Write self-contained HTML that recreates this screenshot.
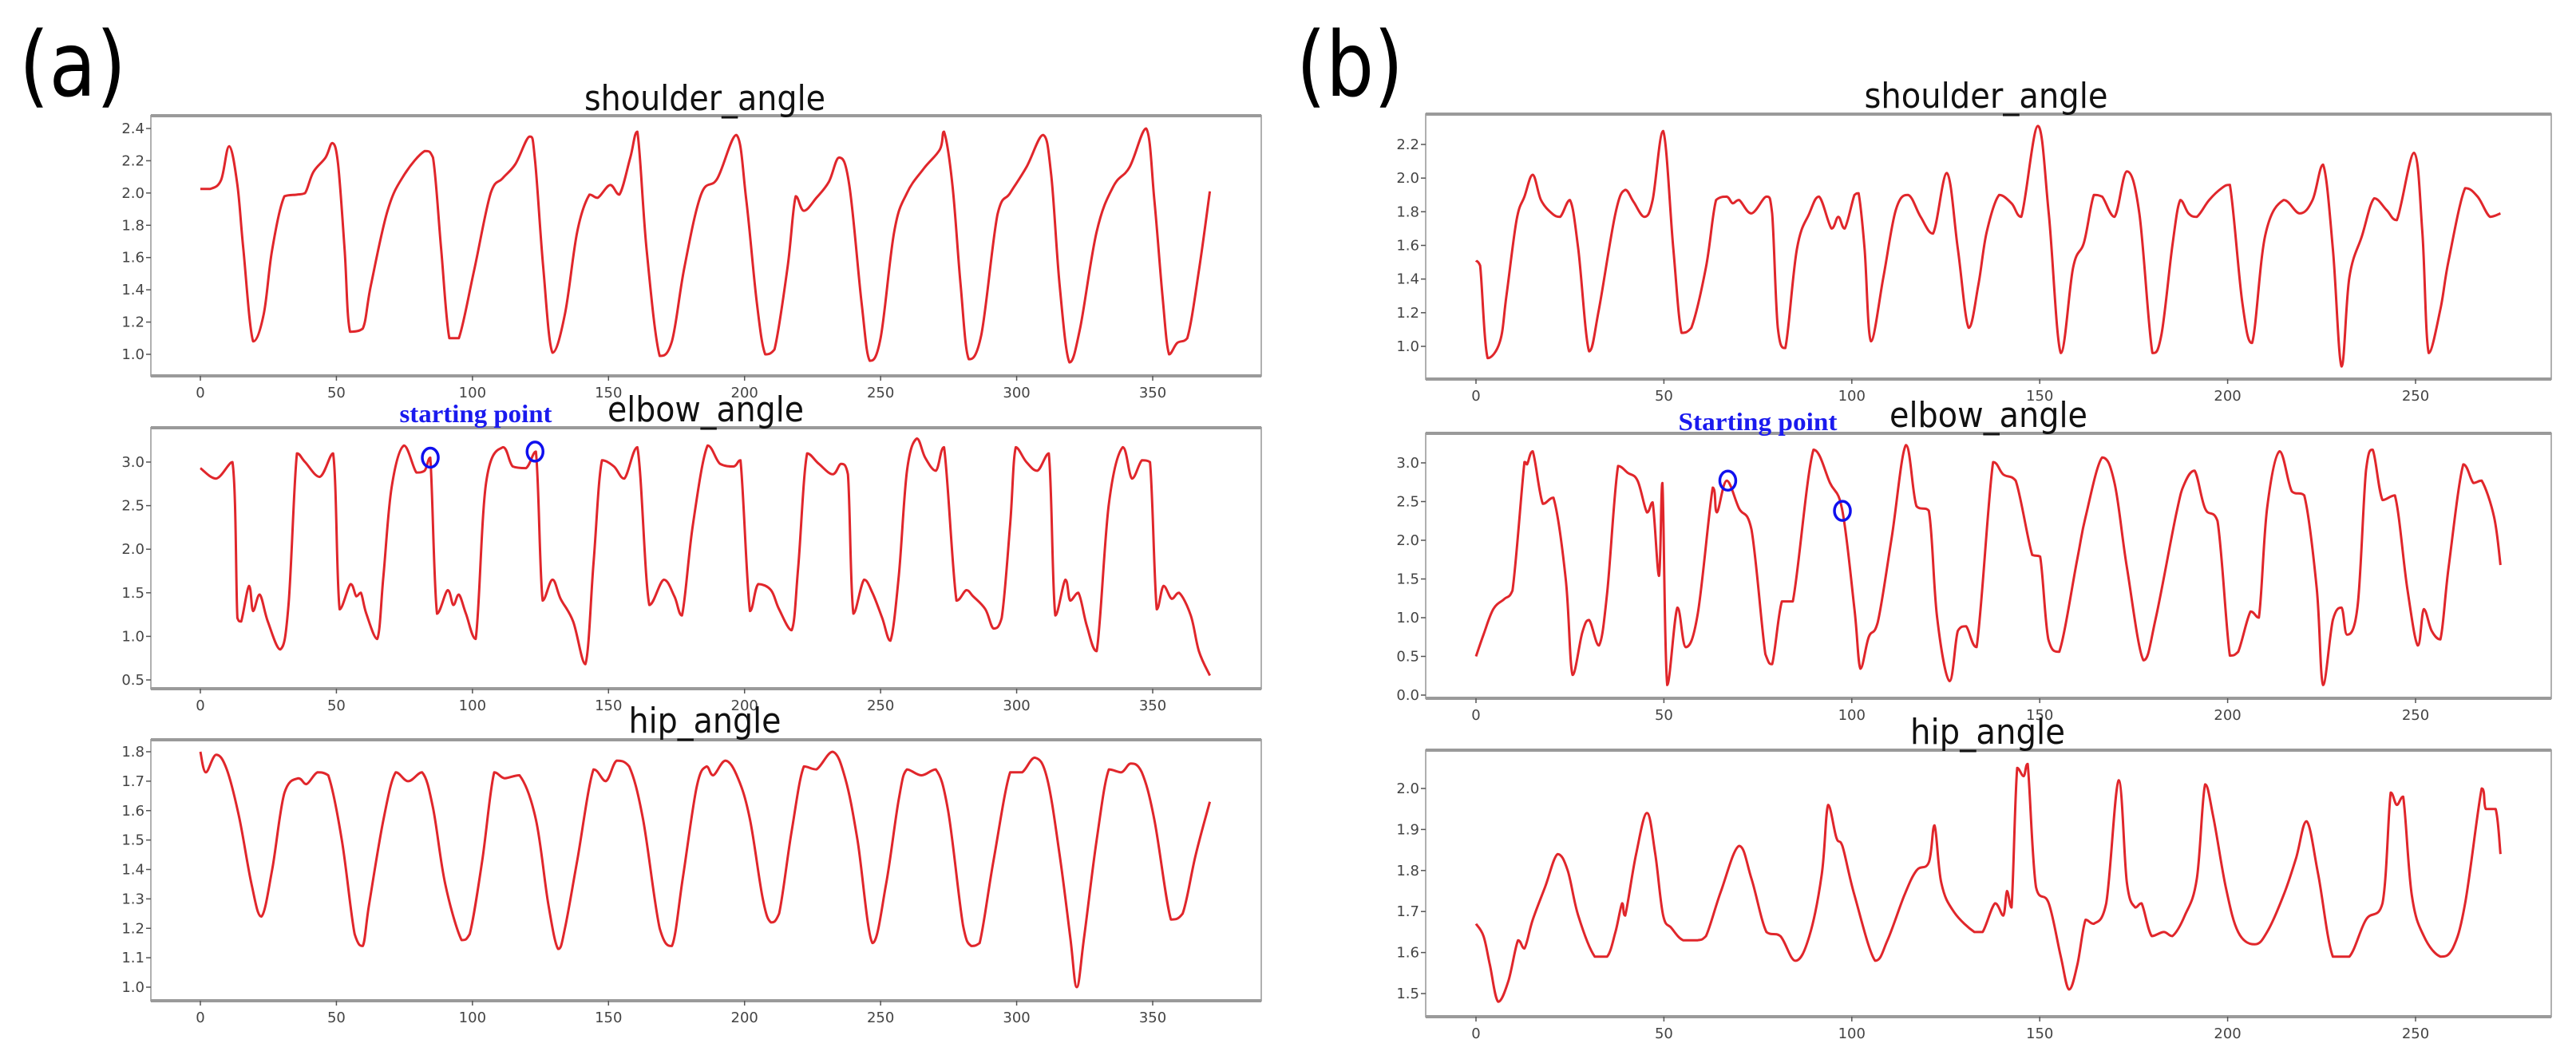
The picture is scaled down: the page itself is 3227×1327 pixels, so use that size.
<!DOCTYPE html>
<html><head><meta charset="utf-8"><style>
html,body{margin:0;padding:0;background:#fff;}
svg{display:block;}
</style></head><body>
<svg id="fig" width="3227" height="1327" viewBox="0 0 3227 1327" xmlns="http://www.w3.org/2000/svg">
<text x="24" y="120" font-family="DejaVu Sans, sans-serif" font-size="112" fill="#000" textLength="134" lengthAdjust="spacingAndGlyphs">(a)</text>
<text x="1624" y="120" font-family="DejaVu Sans, sans-serif" font-size="112" fill="#000" textLength="134" lengthAdjust="spacingAndGlyphs">(b)</text>
<g id="plots"></g>
</svg>
<script>
// ---- data: (a) ----
const aShoulderX=[0,3.6,7.6,10.6,13.6,15.8,19.4,23.3,26.4,30.9,35.5,38.5,41.5,46,48.5,50.6,53,55,59.7,62.7,68.8,74.8,82.4,85.5,88.5,91.5,95,100.6,106.7,111,115.8,121,123,126,129.4,134,138.5,143,146,150.6,154,158,160.6,164,168.8,173.3,177.9,184,190,197,200.6,204.5,207.6,211,215.8,218.8,221.8,226.4,231,234.8,238.5,243,246,250,255,259.7,265.8,271.8,273.3,276.4,279.4,282.4,287,293,297.6,303.6,309.7,312.7,315.8,319.4,323.3,329.4,335.5,341.5,347.6,350.6,353.6,356,359,362.7,367,371];
const aShoulderY=[2.025,2.025,2.08,2.29,2.05,1.65,1.08,1.25,1.65,1.98,1.99,2.0,2.13,2.22,2.31,2.18,1.65,1.14,1.16,1.43,1.89,2.11,2.26,2.22,1.65,1.10,1.10,1.52,2.0,2.09,2.18,2.35,2.2,1.54,1.01,1.25,1.76,1.99,1.97,2.05,1.99,2.22,2.38,1.65,0.99,1.08,1.54,1.99,2.09,2.36,1.96,1.32,1.0,1.03,1.54,1.98,1.89,1.97,2.07,2.22,2.05,1.32,0.96,1.10,1.76,2.0,2.15,2.27,2.38,2.05,1.43,0.97,1.12,1.87,2.0,2.16,2.36,2.11,1.43,0.95,1.16,1.76,2.04,2.16,2.4,1.96,1.36,1.0,1.07,1.1,1.52,2.01];
const aElbowX=[0,5.8,11.8,13.6,15,17.9,19.4,21.8,24.8,29.4,32.4,35.5,38.5,43.9,48.8,51.2,55.2,57.3,59,61,65,67.3,70.3,74.8,79.4,82.4,84.5,87,90.9,93,95,97.6,101.2,105,111.2,114.8,119.7,123.3,125.8,129.4,132.4,137,141.5,144.5,147.6,152,155.8,160.6,165,170.3,174.2,177,181,186.4,191,196,198.5,202,205,209.7,212.7,217.3,219.7,223,227.3,232.4,235.5,238,240,243.9,247,250.6,253.6,256.7,259.7,263.3,266.4,270.3,273.3,277.9,281.5,284,288.5,291.5,294.5,297.6,299.7,303.6,307.6,311.8,314.2,317.9,319.7,322.7,325.8,329.4,333.9,339,342.4,346,349,351.5,354,357,359.7,364,367,371];
const aElbowY=[2.93,2.81,3.0,1.21,1.17,1.58,1.29,1.48,1.17,0.85,1.36,3.1,3.0,2.83,3.1,1.31,1.6,1.46,1.5,1.26,0.97,1.7,2.71,3.19,2.88,2.9,3.05,1.26,1.53,1.36,1.48,1.26,0.97,2.76,3.17,2.95,2.93,3.12,1.41,1.65,1.43,1.17,0.68,1.84,3.02,2.95,2.81,3.17,1.36,1.65,1.46,1.24,2.28,3.19,2.98,2.95,3.02,1.29,1.6,1.53,1.31,1.07,1.79,3.1,2.98,2.86,2.98,2.86,1.26,1.65,1.5,1.21,0.95,1.7,2.9,3.27,3.05,2.9,3.17,1.41,1.53,1.46,1.31,1.09,1.21,2.28,3.17,3.0,2.9,3.1,1.24,1.65,1.41,1.5,1.12,0.83,2.52,3.17,2.81,3.02,3.0,1.31,1.58,1.43,1.5,1.24,0.83,0.55];
const aHipX=[0,2,5.8,9.7,14.2,18.8,22.4,26.4,30.9,36,39,43,47,52,56.7,59.7,62,67.3,71.8,76.4,81.5,85.5,90,96,99,103.6,108,111.8,117.3,123.3,127.9,131.5,134,138.5,144.5,149,153,157.6,162.7,168.8,173.3,177.3,182.4,186,188.5,193,197.6,202,206.7,209.7,212.7,217.3,221.8,226.4,232.4,237,241.5,247,252,256.7,259.7,265,270.3,274.8,280.3,283.3,286.4,291.5,297.6,302,306.7,311.2,315.8,319.7,322.1,324.8,329.4,333.9,338.5,342,346,350.6,356.7,361,365.8,371];
const aHipY=[1.8,1.73,1.79,1.74,1.58,1.35,1.24,1.4,1.66,1.71,1.69,1.73,1.72,1.5,1.18,1.14,1.28,1.57,1.73,1.7,1.73,1.61,1.35,1.16,1.18,1.43,1.73,1.71,1.72,1.57,1.28,1.13,1.2,1.43,1.74,1.7,1.77,1.75,1.57,1.2,1.14,1.37,1.68,1.75,1.72,1.77,1.71,1.57,1.3,1.22,1.25,1.53,1.75,1.74,1.8,1.71,1.5,1.15,1.35,1.64,1.74,1.72,1.74,1.6,1.21,1.14,1.15,1.43,1.73,1.73,1.78,1.71,1.45,1.17,1.0,1.17,1.5,1.74,1.73,1.76,1.73,1.57,1.23,1.25,1.45,1.63];
// ---- data: (b) ----
const bShoulderX=[0,1.1,3.1,6.4,8.1,10.8,12.9,15.1,17.3,20.2,22.4,25,27.2,30.1,32.7,37.1,39.7,41.9,44.8,47,49.8,52.5,54.7,57.3,61.2,63.9,66.7,68.3,70,73.3,77.3,78.8,80.3,82.3,85.4,88.7,91.3,94.6,96.4,98.1,100.7,101.8,103.4,105.1,108.4,111.7,115,118.3,121.6,125.3,128.2,131.1,133.7,135.9,139.2,142.5,145.1,149.5,152.4,155.6,158.9,161.8,164.4,166.6,169.9,173.2,176.5,180,182.4,185.3,187.4,189.6,191.8,195.1,198.4,200.6,203.9,206.5,210,214.9,219.2,222.6,225.4,228,230.3,232.4,235.8,239,242.3,245,249.6,251.8,253.5,256.6,258.8,263.2,266.5,269.8,272.6];
const bShoulderY=[1.51,1.48,0.93,1.03,1.30,1.75,1.89,2.02,1.87,1.79,1.77,1.87,1.58,0.97,1.22,1.79,1.93,1.86,1.77,1.87,2.28,1.58,1.08,1.11,1.47,1.87,1.89,1.85,1.87,1.79,1.89,1.79,1.11,0.99,1.58,1.79,1.89,1.70,1.77,1.70,1.90,1.91,1.58,1.03,1.41,1.81,1.90,1.77,1.67,2.03,1.58,1.11,1.37,1.68,1.90,1.85,1.77,2.31,1.79,0.96,1.47,1.62,1.90,1.89,1.77,2.04,1.79,0.96,1.07,1.60,1.87,1.79,1.77,1.87,1.94,1.96,1.26,1.02,1.66,1.87,1.79,1.87,2.08,1.58,0.88,1.41,1.66,1.88,1.81,1.75,2.15,1.68,0.96,1.22,1.51,1.94,1.89,1.77,1.79];
const bElbowX=[0,2,4.6,7.5,9.7,12.9,13.6,15.1,17.8,20.6,23.9,25.7,28.3,30.1,32.7,34.9,37.8,40.4,43,45.5,47,48.7,49.6,50.9,53.6,55.8,59,63,64.1,66.7,70,73.3,77,78.8,81.4,84.3,89.8,94.2,97.5,100.7,102.3,104.5,106.9,110.6,114.4,117.2,120.5,122.7,126,128.2,130.4,133.2,137.6,140.3,143.6,148,150.1,152.3,155.2,160,162.2,166.6,169.9,173.2,177.6,180.9,186.4,188.6,191.2,194,197.3,200.6,202.8,206.1,208.3,210.5,213.8,217.1,220.4,223.7,225.4,228,230.3,231.8,234.6,236.8,238.6,241.2,244.5,247.8,250.6,252.2,254.3,256.6,258.8,262.7,265.4,267.6,270.9,272.6];
const bElbowY=[0.50,0.78,1.11,1.24,1.35,3.01,2.98,3.15,2.47,2.55,1.49,0.26,0.81,0.97,0.64,1.32,2.96,2.87,2.77,2.36,2.49,1.54,2.74,0.13,1.13,0.62,1.05,2.68,2.36,2.77,2.41,2.14,0.53,0.40,1.21,1.21,3.17,2.74,2.38,1.11,0.34,0.75,0.94,2.03,3.23,2.44,2.38,1.0,0.18,0.83,0.89,0.62,3.01,2.85,2.77,1.81,1.79,0.72,0.56,1.76,2.30,3.07,2.74,1.65,0.45,1.0,2.36,2.74,2.90,2.41,2.25,0.51,0.56,1.08,1.0,2.41,3.15,2.63,2.58,1.38,0.13,0.97,1.13,0.78,1.16,2.90,3.17,2.52,2.58,1.38,0.64,1.11,0.83,0.72,1.65,2.98,2.74,2.77,2.30,1.68];
const bHipX=[0,2,3.7,5.9,8.6,11.2,12.9,15.1,18.4,21.7,24.4,27.2,31.6,34.9,37.1,38.9,39.7,42.6,45.5,47.7,49.8,52,55.1,59,61.2,65.2,70,73.3,77.3,81,85,88.7,92,93.7,95.9,97.5,100.7,106.2,109.5,114,117.2,120.5,122,123.8,127.1,132.6,134.8,138.1,140.3,141.3,142.5,144,145.7,146.8,149,152.4,155.6,157.8,160,162.2,164.4,167.7,171,173.2,175.4,177.1,179.8,183,185.3,188.6,191.8,194,196.2,199.5,202.8,207.2,210.5,214.9,218.2,221,224.1,228,232.4,236.8,241.2,243.4,245,246.7,249,252.2,256.6,259.9,263.2,267.6,268.7,271.3,272.6];
const bHipY=[1.67,1.64,1.57,1.48,1.53,1.63,1.61,1.68,1.76,1.84,1.80,1.69,1.59,1.59,1.65,1.72,1.69,1.84,1.94,1.84,1.69,1.66,1.63,1.63,1.64,1.75,1.86,1.78,1.65,1.64,1.58,1.64,1.79,1.96,1.88,1.86,1.74,1.58,1.63,1.74,1.80,1.82,1.91,1.77,1.70,1.65,1.65,1.72,1.69,1.75,1.71,2.05,2.03,2.06,1.76,1.72,1.59,1.51,1.57,1.68,1.67,1.72,2.02,1.77,1.71,1.72,1.64,1.65,1.64,1.69,1.78,2.01,1.93,1.76,1.65,1.62,1.65,1.74,1.83,1.92,1.79,1.59,1.59,1.68,1.72,1.99,1.96,1.98,1.74,1.64,1.59,1.61,1.72,2.00,1.95,1.95,1.84];
// tick labels
const aXTicks=[0,50,100,150,200,250,300,350];
const bXTicks=[0,50,100,150,200,250];
const aShoulderTicks=[1.0,1.2,1.4,1.6,1.8,2.0,2.2,2.4];
const aElbowTicks=[0.5,1.0,1.5,2.0,2.5,3.0];
const aHipTicks=[1.0,1.1,1.2,1.3,1.4,1.5,1.6,1.7,1.8];
const bShoulderTicks=[1.0,1.2,1.4,1.6,1.8,2.0,2.2];
const bElbowTicks=[0.0,0.5,1.0,1.5,2.0,2.5,3.0];
const bHipTicks=[1.5,1.6,1.7,1.8,1.9,2.0];
const aMarkersX=[84.5,123], aMarkersY=[3.05,3.12];
const bMarkersX=[67,97.5], bMarkersY=[2.77,2.38];

const NS='http://www.w3.org/2000/svg';
const root=document.getElementById('plots');
function mk(tag,attrs,parent){const e=document.createElementNS(NS,tag);for(const k in attrs)e.setAttribute(k,attrs[k]);(parent||root).appendChild(e);return e;}

function smoothPath(pts){
  // Catmull-Rom with reduced tension, control points clamped vertically
  let d='M'+pts[0][0].toFixed(1)+' '+pts[0][1].toFixed(1);
  const t=0.18;
  for(let i=0;i<pts.length-1;i++){
    const p0=pts[Math.max(0,i-1)],p1=pts[i],p2=pts[i+1],p3=pts[Math.min(pts.length-1,i+2)];
    let c1x=p1[0]+(p2[0]-p0[0])*t, c1y=p1[1]+(p2[1]-p0[1])*t;
    let c2x=p2[0]-(p3[0]-p1[0])*t, c2y=p2[1]-(p3[1]-p1[1])*t;
    const lo=Math.min(p1[1],p2[1]),hi=Math.max(p1[1],p2[1]);
    c1y=Math.min(hi,Math.max(lo,c1y)); c2y=Math.min(hi,Math.max(lo,c2y));
    d+=' C'+c1x.toFixed(1)+' '+c1y.toFixed(1)+' '+c2x.toFixed(1)+' '+c2y.toFixed(1)+' '+p2[0].toFixed(1)+' '+p2[1].toFixed(1);
  }
  return d;
}

function panel(cfg){
  const g=mk('g',{});
  
  
  const xs=v=>cfg.x0+(v-cfg.xa)*(cfg.x1-cfg.x0)/(cfg.xb-cfg.xa);
  const ys=v=>cfg.y0+(v-cfg.ya)*(cfg.y1-cfg.y0)/(cfg.yb-cfg.ya);
  const fr=mk('rect',{x:cfg.L,y:cfg.T,width:cfg.R-cfg.L,height:cfg.B-cfg.T,fill:'#fff',stroke:'#b0b0b0','stroke-width':2},g);
  
  
  mk('line',{x1:cfg.L,x2:cfg.R,y1:cfg.T,y2:cfg.T,stroke:'#9a9a9a','stroke-width':4},g);
  mk('line',{x1:cfg.L,x2:cfg.R,y1:cfg.B,y2:cfg.B,stroke:'#9a9a9a','stroke-width':4},g);
  cfg.xt.forEach(t=>{
    const x=xs(t);
    mk('line',{x1:x,x2:x,y1:cfg.B,y2:cfg.B+6,stroke:'#555','stroke-width':1.5},g);
    const tx=mk('text',{x:x,y:cfg.B+27,'text-anchor':'middle','font-family':'DejaVu Sans, sans-serif','font-size':18,fill:'#444'},g);
    tx.textContent=String(t);
    
    
  });
  cfg.yt.forEach(t=>{
    const y=ys(t);
    mk('line',{x1:cfg.L-6,x2:cfg.L,y1:y,y2:y,stroke:'#555','stroke-width':1.5},g);
    const tx=mk('text',{x:cfg.L-8,y:y+6,'text-anchor':'end','font-family':'DejaVu Sans, sans-serif','font-size':18,fill:'#444'},g);
    tx.textContent=t.toFixed(1);
    
    
  });
  const pts=cfg.X.map((v,i)=>[xs(v),ys(cfg.Y[i])]);
  const p=mk('path',{d:smoothPath(pts),fill:'none',stroke:'#e0262b','stroke-width':3,'stroke-linejoin':'round'},g);
  
  
  const ti=mk('text',{x:cfg.tx,y:cfg.ty,'text-anchor':'middle','font-family':'DejaVu Sans, sans-serif','font-size':44,fill:'#111',textLength:cfg.tw,lengthAdjust:'spacingAndGlyphs'},g);
  ti.textContent=cfg.title;
  
  
  if(cfg.mx){
    cfg.mx.forEach((v,i)=>{
      const c=mk('ellipse',{cx:xs(v),cy:ys(cfg.my[i]),rx:10,ry:12,fill:'none',stroke:'#1010ee','stroke-width':3.5},g);
      
      
    });
    const s=mk('text',{x:cfg.sx,y:cfg.sy,'text-anchor':'middle','font-family':'Liberation Serif, serif','font-weight':'bold','font-size':32,fill:'#1a1aee',textLength:cfg.sw,lengthAdjust:'spacingAndGlyphs'},g);
    s.textContent=cfg.stext;
    
    
  }
}
const A={L:189,R:1580,x0:251,x1:1444,xa:0,xb:350,xt:aXTicks};
const Bp={L:1786,R:3196,x0:1849,x1:3026,xa:0,xb:250,xt:bXTicks};
panel(Object.assign({},A,{name:'a-shoulder',T:145,B:471,y0:161,y1:444,ya:2.4,yb:1.0,yt:aShoulderTicks,X:aShoulderX,Y:aShoulderY,title:'shoulder_angle',tx:883,ty:138,tw:302}));
panel(Object.assign({},A,{name:'a-elbow',T:536,B:863,y0:579,y1:852,ya:3.0,yb:0.5,yt:aElbowTicks,X:aElbowX,Y:aElbowY,title:'elbow_angle',tx:884,ty:528,tw:246,mx:aMarkersX,my:aMarkersY,sx:596,sy:529,sw:191,stext:'starting point'}));
panel(Object.assign({},A,{name:'a-hip',T:927,B:1254,y0:942,y1:1237,ya:1.8,yb:1.0,yt:aHipTicks,X:aHipX,Y:aHipY,title:'hip_angle',tx:883,ty:918,tw:191}));
panel(Object.assign({},Bp,{name:'b-shoulder',T:143,B:475,y0:181,y1:434,ya:2.2,yb:1.0,yt:bShoulderTicks,X:bShoulderX,Y:bShoulderY,title:'shoulder_angle',tx:2488,ty:135,tw:305}));
panel(Object.assign({},Bp,{name:'b-elbow',T:543,B:875,y0:580,y1:871,ya:3.0,yb:0.0,yt:bElbowTicks,X:bElbowX,Y:bElbowY,title:'elbow_angle',tx:2491,ty:535,tw:248,mx:bMarkersX,my:bMarkersY,sx:2202,sy:539,sw:199,stext:'Starting point'}));
panel(Object.assign({},Bp,{name:'b-hip',T:940,B:1274,y0:988,y1:1245,ya:2.0,yb:1.5,yt:bHipTicks,X:bHipX,Y:bHipY,title:'hip_angle',tx:2490,ty:932,tw:194}));
</script>
</body></html>
